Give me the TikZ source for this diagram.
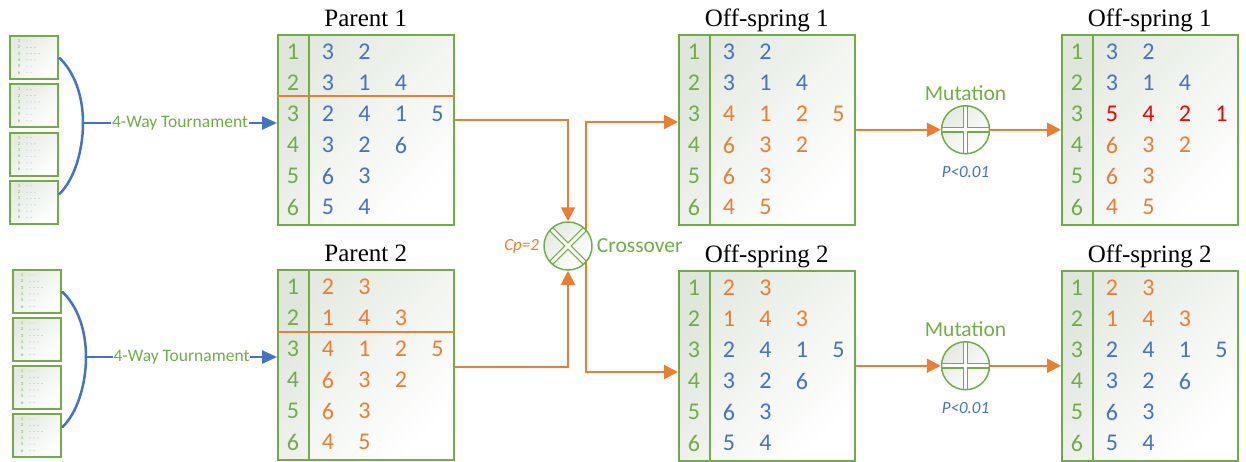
\documentclass[tikz,border=0pt]{standalone}
\usepackage{fontspec}
\setmainfont{Liberation Serif}
\newfontfamily\calibri{Carlito}
\usetikzlibrary{arrows.meta,positioning,calc}
\definecolor{gagreen}{HTML}{70AD47}
\definecolor{gablue}{HTML}{4472C4}
\definecolor{gaorange}{HTML}{ED7D31}
\definecolor{gared}{HTML}{FF0000}
\definecolor{gashade}{HTML}{E4EAE1}

\tikzset{
  tablebox/.style={draw=gagreen, line width=1.5pt, anchor=north west, minimum width=176pt,
    minimum height=190pt, inner sep=0pt, top color=gashade, bottom color=white, shading angle=45},
  minibox/.style={draw=gagreen, line width=2pt, anchor=north west, minimum width=48pt,
    minimum height=43pt, inner sep=0pt, top color=gashade, bottom color=white, shading angle=45},
  celldigit/.style={font=\calibri\fontsize{24}{26}\selectfont, inner sep=0pt},
  minidigit/.style={font=\calibri\fontsize{4.5}{5}\selectfont, text=gagreen, inner sep=0pt},
  titletext/.style={font=\fontsize{25}{28}\selectfont, anchor=base},
  flow/.style={draw=gaorange, line width=2pt, -{Triangle[length=14pt,width=14pt]}},
  cutline/.style={draw=gaorange, line width=1.5pt},
  tourney/.style={draw=gablue, line width=2.5pt},
  tourneyarrow/.style={tourney, -{Triangle[length=15pt,width=13pt]}},
  oplabel/.style={font=\calibri\fontsize{21.5}{23}\selectfont, text=gagreen, inner sep=0pt},
  paramlabel/.style={font=\calibri\itshape\fontsize{17}{19}\selectfont, inner sep=0pt},
  opnode/.style={circle, draw=gagreen, line width=1.5pt, minimum size=48pt, inner sep=0pt,
    top color=gashade, bottom color=white, shading angle=45},
  crosspic/.style={path picture={
    \foreach \w/\col in {5.5pt/gagreen, 3pt/white}
      \draw[\col, line width=\w] (path picture bounding box.south west) -- (path picture bounding box.north east)
        (path picture bounding box.north west) -- (path picture bounding box.south east);}},
  pluspic/.style={path picture={
    \foreach \w/\col in {5.5pt/gagreen, 3pt/white}
      \draw[\col, line width=\w] (path picture bounding box.north) -- (path picture bounding box.south)
        (path picture bounding box.west) -- (path picture bounding box.east);}},
}

% chromosome table: name, north west corner, title, rows as colour/{digits}
\newcommand{\chromtable}[4]{%
  \node[tablebox] (#1) at (#2) {};
  \fill[gagreen!40!black, opacity=0.025] (#1.north west) rectangle ($(#1.south west)+(32,0)$);
  \draw[gagreen, line width=1.5pt] ($(#1.north west)+(32,0)$) -- ($(#1.south west)+(32,0)$);
  \node[titletext] (#1-title) at ($(#1.north)+(0,-8)$) {#3};
  \foreach \rowcol/\rowdigits [count=\ri] in {#4} {
    \node[celldigit, text=gagreen] (#1-i\ri) at ($(#1.north west)+(16,{18+31*(\ri-1)})$) {\ri};
    \foreach \d [count=\ci] in \rowdigits
      \node[celldigit, text=\rowcol] (#1-\ri-\ci) at ($(#1.north west)+({51+36.5*(\ci-1)},{18+31*(\ri-1)})$) {\d};
  }
}

% small population sample
\newcommand{\minipop}[3]{%
  \node[minibox] (#1) at ({#2},{#3}) {};
  \foreach \n [count=\ri] in {2,3,4,3,2,2} {
    \node[minidigit] (#1-\ri) at ($(#1.north west)+(10,{6+6.3*(\ri-1)})$) {\ri};
    \foreach \dk in {1,...,\n}
      \fill[gablue!70] ($(#1.north west)+({14+4*\dk},{6+6.3*(\ri-1)})$) circle (0.45pt);
  }
}

\begin{document}
\begin{tikzpicture}[x=1pt, y=-1pt]
\useasboundingbox (0,0) rectangle (1246,461);

% population samples
\foreach \k in {0,...,3} {
  \minipop{popa\k}{9}{35+48.3*\k}
  \minipop{popb\k}{12}{269+48*\k}
}

% tables
\chromtable{p1}{277,34}{Parent 1}{gablue/{3,2}, gablue/{3,1,4}, gablue/{2,4,1,5}, gablue/{3,2,6}, gablue/{6,3}, gablue/{5,4}}
\chromtable{p2}{277,269}{Parent 2}{gaorange/{2,3}, gaorange/{1,4,3}, gaorange/{4,1,2,5}, gaorange/{6,3,2}, gaorange/{6,3}, gaorange/{4,5}}
\chromtable{o1}{678,34}{Off-spring 1}{gablue/{3,2}, gablue/{3,1,4}, gaorange/{4,1,2,5}, gaorange/{6,3,2}, gaorange/{6,3}, gaorange/{4,5}}
\chromtable{o2}{678,270}{Off-spring 2}{gaorange/{2,3}, gaorange/{1,4,3}, gablue/{2,4,1,5}, gablue/{3,2,6}, gablue/{6,3}, gablue/{5,4}}
\chromtable{c1}{1061,34}{Off-spring 1}{gablue/{3,2}, gablue/{3,1,4}, gared/{5,4,2,1}, gaorange/{6,3,2}, gaorange/{6,3}, gaorange/{4,5}}
\chromtable{c2}{1061,270}{Off-spring 2}{gaorange/{2,3}, gaorange/{1,4,3}, gablue/{2,4,1,5}, gablue/{3,2,6}, gablue/{6,3}, gablue/{5,4}}
\draw[cutline] ($(p1.north west)+(0,62)$) -- ($(p1.north east)+(0,62)$);
\draw[cutline] ($(p2.north west)+(0,63)$) -- ($(p2.north east)+(0,63)$);

% tournament selection
\coordinate (tja) at (83,123);
\coordinate (tjb) at (86,357);
\coordinate (p1in) at ($(p1.north west)+(0,89)$);
\coordinate (p2in) at ($(p2.north west)+(0,88)$);
\draw[tourney] (popa0.east) .. controls +(15,14) and +(0,-28) .. (tja)
  .. controls +(0,28) and +(15,-14) .. ($(popa3.east)+(0,-8)$);
\draw[tourney] (popb0.east) .. controls +(15,14) and +(0,-28) .. (tjb)
  .. controls +(0,28) and +(15,-14) .. ($(popb3.east)+(0,-8)$);
\draw[tourneyarrow] (tja) -- node[fill=white, inner sep=1pt, text=gagreen, font=\calibri\fontsize{17.5}{19}\selectfont] (tlab1) {4-Way Tournament} (p1in);
\draw[tourneyarrow] (tjb) -- node[fill=white, inner sep=1pt, text=gagreen, font=\calibri\fontsize{17.5}{19}\selectfont] (tlab2) {4-Way Tournament} (p2in);

% crossover
\coordinate (split) at (586,246);
\coordinate (o1in) at ($(o1.north west)+(0,88)$);
\coordinate (o2in) at ($(o2.north west)+(0,102)$);
\draw[flow] (split |- o2in) |- (o1in);
\draw[flow] (split |- o1in) |- (o2in);
\node[opnode, crosspic] (cross) at (568,246) {};
\draw[flow] ($(p1.north east)+(0,86)$) -| (cross.north);
\draw[flow] ($(p2.north east)+(0,98)$) -| (cross.south);
\node[paramlabel, text=gaorange, left=4pt of cross] (cp) {Cp=2};
\node[oplabel, right=4pt of cross] (crossname) {Crossover};

% mutation
\foreach \m/\src/\dst in {mut1/o1/c1, mut2/o2/c2} {
  \node[opnode, pluspic] (\m) at ($(\src.east)+(110,0)$) {};
  \draw[flow] (\src.east) -- (\m.west);
  \draw[flow] (\m.east) -- (\dst.west);
  \node[oplabel, above=4pt of \m] (\m-name) {Mutation};
  \node[paramlabel, text=gablue, below=12pt of \m] (\m-p) {P<0.01};
}
\end{tikzpicture}
\end{document}
